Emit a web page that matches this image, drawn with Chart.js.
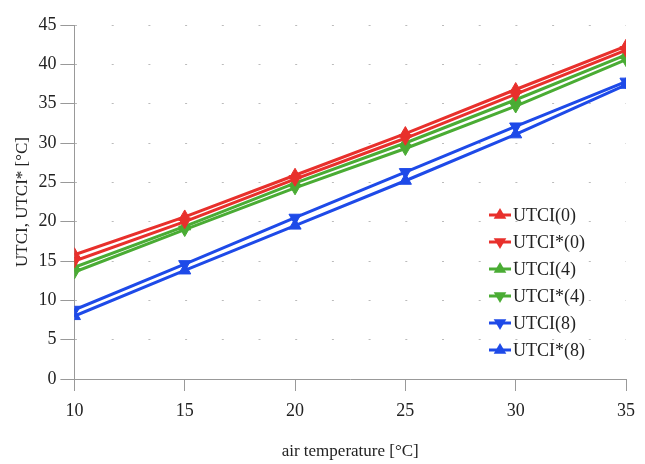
<!DOCTYPE html>
<html>
<head>
<meta charset="utf-8">
<script src="https://cdn.jsdelivr.net/npm/chart.js@4.4.0/dist/chart.umd.min.js"></script>
<style>
  html, body { margin: 0; padding: 0; background: #fff; }
</style>
</head>
<body>
<canvas id="canv" width="645" height="464"></canvas>
<script>
const airTemp = [10, 15, 20, 25, 30, 35];
const yTicks = [0, 5, 10, 15, 20, 25, 30, 35, 40, 45];

const utci0 = [15.8, 20.6, 25.9, 31.2, 36.8, 42.3];
const utciStar0 = [15.0, 20.0, 25.4, 30.6, 36.2, 41.8];
const utci4 = [14.2, 19.4, 24.9, 30.0, 35.5, 41.2];
const utciStar4 = [13.6, 19.0, 24.3, 29.3, 34.7, 40.6];
const utci8 = [8.8, 14.6, 20.5, 26.3, 32.1, 37.8];
const utciStar8 = [8.0, 13.8, 19.5, 25.2, 31.1, 37.4];

const labels = ['UTCI(0)', 'UTCI*(0)', 'UTCI(4)', 'UTCI*(4)', 'UTCI(8)', 'UTCI*(8)'];

const RED = 'rgb(232, 48, 44)';
const GREEN = 'rgb(74, 172, 52)';
const BLUE = 'rgb(30, 74, 232)';
const FONT = '"Liberation Serif", serif';

function pts(vals) {
  return airTemp.map((t, i) => ({ x: t, y: vals[i] }));
}

function series(label, vals, color, down) {
  return {
    label: label,
    data: pts(vals),
    borderColor: color,
    backgroundColor: color,
    borderWidth: 3,
    pointStyle: 'triangle',
    pointRotation: down ? 180 : 0,
    pointRadius: 7,
    pointBorderWidth: 1,
    tension: 0
  };
}

// legend drawn inside plot area, lower right
const insideLegend = {
  id: 'insideLegend',
  afterDraw(chart) {
    const ctx = chart.ctx;
    const x0 = 500, y0 = 215, step = 27;
    ctx.save();
    ctx.font = '18px ' + FONT;
    ctx.textBaseline = 'middle';
    chart.data.datasets.forEach((ds, i) => {
      const y = y0 + i * step;
      ctx.strokeStyle = ds.borderColor;
      ctx.lineWidth = 3;
      ctx.beginPath();
      ctx.moveTo(x0 - 11, y);
      ctx.lineTo(x0 + 11, y);
      ctx.stroke();
      const r = 7;
      const dir = ds.pointRotation ? -1 : 1;
      ctx.fillStyle = ds.borderColor;
      ctx.beginPath();
      ctx.moveTo(x0, y - dir * r);
      ctx.lineTo(x0 - r * 0.9, y + dir * r * 0.55);
      ctx.lineTo(x0 + r * 0.9, y + dir * r * 0.55);
      ctx.closePath();
      ctx.fill();
      ctx.fillStyle = '#222';
      ctx.fillText(ds.label, x0 + 13, y + 1);
    });
    ctx.restore();
  }
};

new Chart(document.getElementById('canv').getContext('2d'), {
  type: 'line',
  data: {
    datasets: [
      series(labels[0], utci0, RED, false),
      series(labels[1], utciStar0, RED, true),
      series(labels[2], utci4, GREEN, false),
      series(labels[3], utciStar4, GREEN, true),
      series(labels[4], utci8, BLUE, true),
      series(labels[5], utciStar8, BLUE, false)
    ]
  },
  options: {
    responsive: false,
    animation: false,
    layout: { padding: { top: 25, right: 19, left: 12, bottom: 2 } },
    plugins: {
      legend: { display: false },
      tooltip: { enabled: false }
    },
    scales: {
      x: {
        type: 'linear',
        min: 10,
        max: 35,
        afterBuildTicks: (axis) => { axis.ticks = airTemp.map(v => ({ value: v })); },
        grid: {
          drawOnChartArea: false,
          tickLength: 12,
          tickColor: '#999',
          tickWidth: 1
        },
        border: { color: '#999', width: 1 },
        ticks: {
          color: '#222',
          padding: 9,
          font: { family: FONT, size: 18 }
        },
        title: {
          display: true,
          text: 'air temperature [°C]',
          color: '#222',
          padding: { top: 11, bottom: 0 },
          font: { family: FONT, size: 17 }
        }
      },
      y: {
        min: 0,
        max: 45,
        afterBuildTicks: (axis) => { axis.ticks = yTicks.map(v => ({ value: v })); },
        grid: {
          color: '#bbb',
          lineWidth: 1,
          tickBorderDash: [],
          tickLength: 14,
          tickColor: '#999',
          tickWidth: 1
        },
        border: { color: '#999', width: 1, dash: [2, 34.7] },
        ticks: {
          color: '#222',
          padding: 4,
          font: { family: FONT, size: 18 }
        },
        title: {
          display: true,
          text: 'UTCI, UTCI* [°C]',
          color: '#222',
          padding: { top: 0, bottom: 2 },
          font: { family: FONT, size: 17 }
        }
      }
    }
  },
  plugins: [insideLegend]
});
</script>
</body>
</html>
